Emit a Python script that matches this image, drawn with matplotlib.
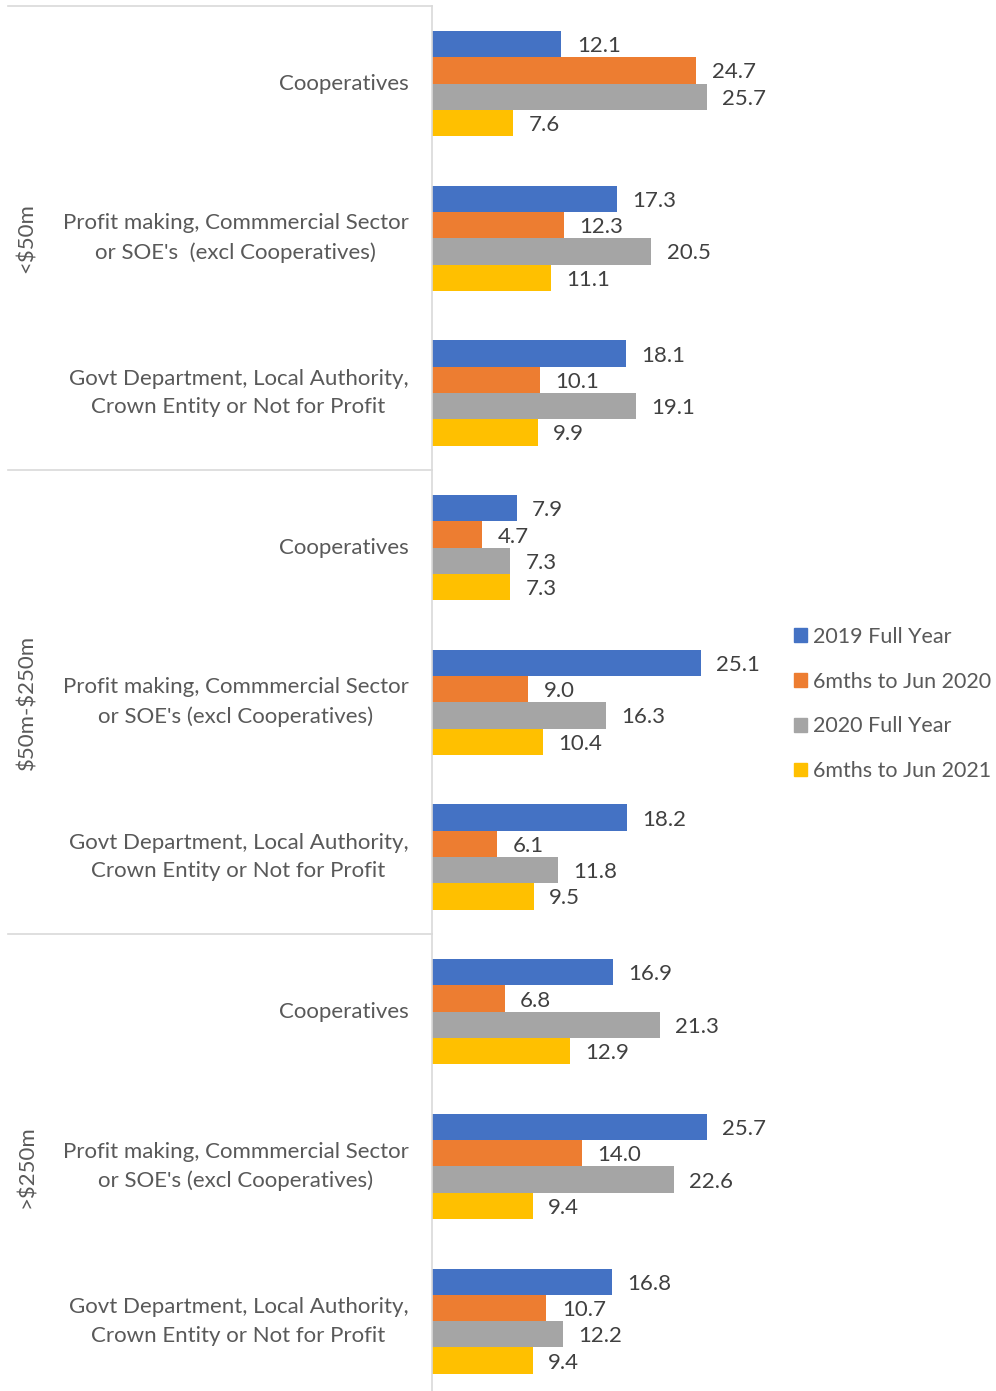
import matplotlib
matplotlib.use("Agg")
import matplotlib.pyplot as plt
from matplotlib.patches import Patch

groups = ["<\\$50m", "\\$50m-\\$250m", ">\\$250m"]
categories = [
    "Cooperatives",
    "Profit making, Commmercial Sector\nor SOE's  (excl Cooperatives)",
    "Govt Department, Local Authority,\nCrown Entity or Not for Profit",
    "Cooperatives",
    "Profit making, Commmercial Sector\nor SOE's (excl Cooperatives)",
    "Govt Department, Local Authority,\nCrown Entity or Not for Profit",
    "Cooperatives",
    "Profit making, Commmercial Sector\nor SOE's (excl Cooperatives)",
    "Govt Department, Local Authority,\nCrown Entity or Not for Profit",
]
series_names = ["2019 Full Year", "6mths to Jun 2020", "2020 Full Year", "6mths to Jun 2021"]
s2019 = [12.1, 17.3, 18.1, 7.9, 25.1, 18.2, 16.9, 25.7, 16.8]
s6m2020 = [24.7, 12.3, 10.1, 4.7, 9.0, 6.1, 6.8, 14.0, 10.7]
s2020 = [25.7, 20.5, 19.1, 7.3, 16.3, 11.8, 21.3, 22.6, 12.2]
s6m2021 = [7.6, 11.1, 9.9, 7.3, 10.4, 9.5, 12.9, 9.4, 9.4]
series = [s2019, s6m2020, s2020, s6m2021]
colors = ["#4472C4", "#ED7D31", "#A5A5A5", "#FFC000"]

FONT = "Lato"
TXT = "#595959"
FS = 16

W, H = 996, 1391
fig = plt.figure(figsize=(W / 100, H / 100), dpi=100)
ax_left, ax_right = 432, 753
ax_top, ax_bot = 6.2, 1398.5
ax = fig.add_axes([ax_left / W, 1 - ax_bot / H, (ax_right - ax_left) / W, (ax_bot - ax_top) / H])

n = len(categories)
bh = 0.17
for si, vals in enumerate(series):
    ys = [i - 1.5 * bh + si * bh for i in range(n)]
    bars = ax.barh(ys, vals, height=bh, color=colors[si], label=series_names[si])
    texts = ax.bar_label(bars, labels=[f"{v:.1f}" for v in vals], padding=11,
                         fontsize=FS, color="#404040", family=FONT)
    for t in texts:
        t.set_va("center_baseline")

ax.set_xlim(0, 30)
ax.set_ylim(n - 0.5, -0.5)
ax.set_xticks([])
ax.set_yticks(range(n))
ax.set_yticklabels(categories, fontsize=FS, color=TXT, family=FONT,
                   multialignment="center", linespacing=1.55)
for t in ax.get_yticklabels():
    t.set_va("center")
ax.tick_params(axis="y", length=0, pad=17)
for s in ["top", "right", "bottom"]:
    ax.spines[s].set_visible(False)
ax.spines["left"].set_color("#D9D9D9")
ax.spines["left"].set_linewidth(1.2)

# group separators and group labels
trans = ax.get_yaxis_transform()
x0 = (8 - ax_left) / (ax_right - ax_left)
for b in [-0.5, 2.5, 5.5]:
    ax.plot([x0, 0], [b, b], transform=trans, color="#D9D9D9", lw=1.2, clip_on=False)
xg = (27 - ax_left) / (ax_right - ax_left)
for gi, g in enumerate(groups):
    ax.text(xg, gi * 3 + 1, g, transform=trans, rotation=90, ha="center", va="center",
            fontsize=FS, color=TXT, family=FONT)

LFS = 15.5
handles = [Patch(color=c, label=l) for c, l in zip(colors, series_names)]
fig.legend(handles=handles, loc="center left", bbox_to_anchor=(794 / W, 1 - 704 / H),
           frameon=False, labelcolor=TXT, prop={"family": FONT, "size": LFS},
           handlelength=0.6, handleheight=0.6, handletextpad=0.3, labelspacing=1.15,
           borderaxespad=0, borderpad=0)

fig.savefig("out.png", dpi=100)
